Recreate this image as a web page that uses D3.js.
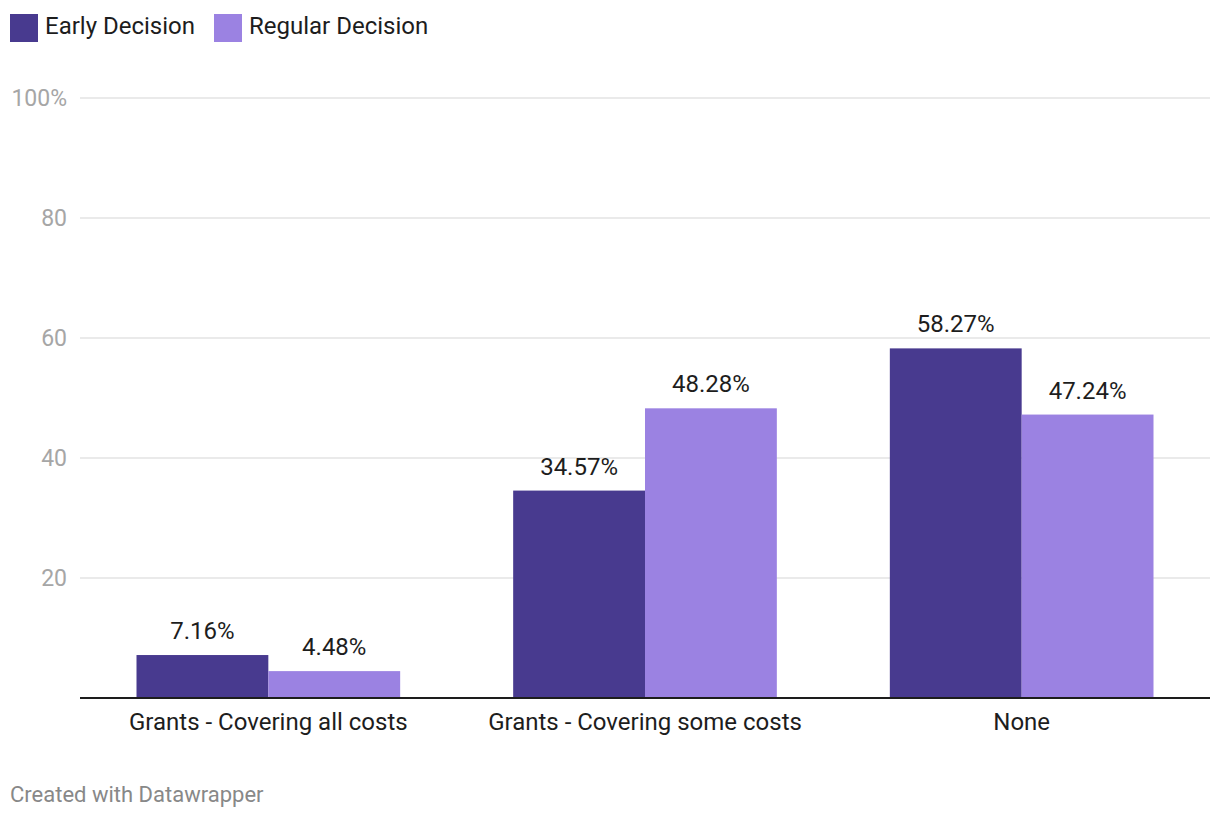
<!DOCTYPE html>
<html><head><meta charset="utf-8">
<script src="https://cdn.jsdelivr.net/npm/d3@7"></script>
<style>body{margin:0;background:#fff;font-family:Roboto,sans-serif;}</style>
</head><body><svg id="c" width="1220" height="820"></svg>
<script>
const categories = ["Grants - Covering all costs", "Grants - Covering some costs", "None"];
const seriesNames = ["Early Decision", "Regular Decision"];
const earlyDecision = [7.16, 34.57, 58.27];
const regularDecision = [4.48, 48.28, 47.24];
const yTicks = [20, 40, 60, 80, 100];
const colors = ["#483a8f", "#9b82e2"];

const svg = d3.select("#c");
const x0 = d3.scaleBand().domain(categories).range([80, 1210]).paddingInner(0.3).paddingOuter(0.15);
const x1 = d3.scaleBand().domain(seriesNames).range([0, x0.bandwidth()]);
const y = d3.scaleLinear().domain([0, 100]).range([698, 98]);

// gridlines
svg.append("g").selectAll("line").data(yTicks).join("line")
  .attr("x1", 80).attr("x2", 1210).attr("y1", d => y(d)).attr("y2", d => y(d))
  .attr("stroke", "#e3e3e3").attr("stroke-width", 1.5);
svg.append("g").selectAll("text").data(yTicks).join("text")
  .attr("x", 67).attr("y", d => y(d) + 8).attr("text-anchor", "end")
  .attr("font-size", 23).attr("fill", "#a6a6a6")
  .text(d => d === 100 ? "100%" : d);

const series = [earlyDecision, regularDecision];
const rows = [];
categories.forEach((c, i) => seriesNames.forEach((s, j) => rows.push({c, s, v: series[j][i], j})));

svg.append("g").selectAll("rect").data(rows).join("rect")
  .attr("x", d => x0(d.c) + x1(d.s)).attr("width", x1.bandwidth())
  .attr("y", d => y(d.v)).attr("height", d => y(0) - y(d.v))
  .attr("fill", d => colors[d.j]);

svg.append("g").selectAll("text").data(rows).join("text")
  .attr("x", d => x0(d.c) + x1(d.s) + x1.bandwidth() / 2)
  .attr("y", d => y(d.v) - 16).attr("text-anchor", "middle")
  .attr("font-size", 24).attr("fill", "#1d1d1d")
  .text(d => d.v.toFixed(2) + "%");

// baseline
svg.append("line").attr("x1", 80).attr("x2", 1210).attr("y1", y(0)).attr("y2", y(0))
  .attr("stroke", "#1d1d1d").attr("stroke-width", 2);

// category labels
const xAxis = d3.axisBottom(x0).tickSize(0).tickPadding(0);
const gx = svg.append("g").attr("transform", `translate(0,${y(0)})`).call(xAxis);
gx.select(".domain").remove();
gx.selectAll("text").attr("font-size", 24).attr("font-family", "Roboto,sans-serif")
  .attr("fill", "#1d1d1d").attr("dy", null).attr("y", 32);

// legend
const lg = svg.append("g");
const legX = [10, 214];
seriesNames.forEach((s, i) => {
  lg.append("rect").attr("x", legX[i]).attr("y", 14).attr("width", 28).attr("height", 28).attr("fill", colors[i]);
  lg.append("text").attr("x", legX[i] + 35).attr("y", 34).attr("font-size", 24).attr("fill", "#1d1d1d").text(s);
});

svg.append("text").attr("x", 10).attr("y", 802).attr("font-size", 22).attr("fill", "#888").text("Created with Datawrapper");
</script></body></html>
